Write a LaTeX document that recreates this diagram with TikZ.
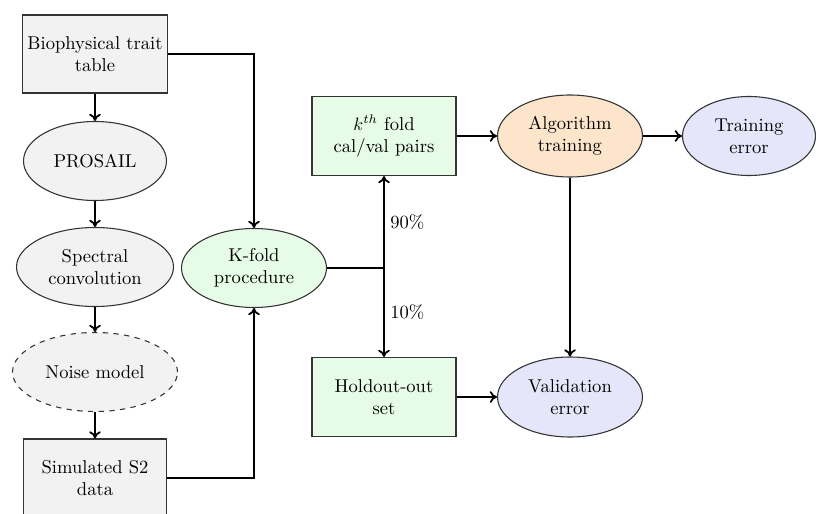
\documentclass[tikz,border=0pt]{standalone}
\usetikzlibrary{shapes.geometric,arrows.meta}
\definecolor{boxgray}{HTML}{F2F2F2}
\definecolor{boxgreen}{HTML}{E6FCE6}
\definecolor{boxorange}{HTML}{FDE5CC}
\definecolor{boxblue}{HTML}{E6E6FA}
\definecolor{edge}{HTML}{333333}
\begin{document}
\begin{tikzpicture}[x=0.56pt,y=-0.56pt,
  every node/.style={font=\fontsize{10.4}{12.5}\selectfont, align=center, inner sep=0pt},
  rbox/.style={rectangle, draw=edge, line width=0.6pt, minimum width={#1*0.56pt}, minimum height={78*0.56pt}},
  ebox/.style={ellipse, draw=edge, line width=0.6pt, minimum width={#1*0.56pt}, minimum height={79*0.56pt}},
  conn/.style={-{To[length=4pt,width=6.5pt]}, line width=1pt},
  line/.style={line width=1pt}]
\useasboundingbox (0,0) rectangle (816,514);
\node[rbox=145, fill=boxgray] (bio) at (95,54) {Biophysical trait\\table};
\node[ebox=143, fill=boxgray] (prosail) at (95,161) {PROSAIL};
\node[ebox=157, fill=boxgray] (spec) at (95,267) {Spectral\\convolution};
\node[ebox=165, fill=boxgray, dashed] (noise) at (95,372) {Noise model};
\node[rbox=143, fill=boxgray] (sim) at (95,478) {Simulated S2\\data};
\node[ebox=145, fill=boxgreen] (kfold) at (254,268) {K-fold\\procedure};
\node[rbox=144, fill=boxgreen, minimum height={79*0.56pt}] (kth) at (384,136) {$k^{th}$ fold\\cal/val pairs};
\node[rbox=144, fill=boxgreen, minimum height={79*0.56pt}] (hold) at (384,397) {Holdout-out\\set};
\node[ebox=145, fill=boxorange, minimum height={82*0.56pt}] (alg) at (570,136) {Algorithm\\training};
\node[ebox=133, fill=boxblue] (terr) at (749,136) {Training\\error};
\node[ebox=145, fill=boxblue, minimum height={80*0.56pt}] (verr) at (570,397) {Validation\\error};
\coordinate (j) at (384,268);
\draw[conn] (bio) -- (prosail);
\draw[conn] (prosail) -- (spec);
\draw[conn] (spec) -- (noise);
\draw[conn] (noise) -- (sim);
\draw[conn] (bio.east) -| (kfold.north);
\draw[conn] (sim.east) -| (kfold.south);
\draw[line] (kfold.east) -- (j);
\draw[conn] (j) -- (kth.south) node[pos=0.5, anchor=west, xshift=3pt] (l90) {90\%};
\draw[conn] (j) -- (hold.north) node[pos=0.5, anchor=west, xshift=3pt] (l10) {10\%};
\draw[conn] (kth) -- (alg);
\draw[conn] (alg) -- (terr);
\draw[conn] (alg) -- (verr);
\draw[conn] (hold) -- (verr);
\end{tikzpicture}
\end{document}
